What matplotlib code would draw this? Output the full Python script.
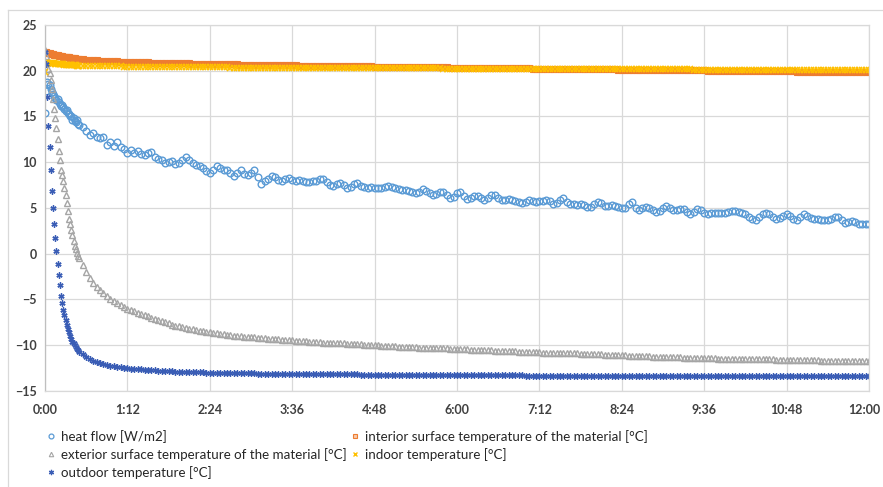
import matplotlib
matplotlib.use("Agg")
import matplotlib.pyplot as plt
import matplotlib.transforms as mtransforms
from matplotlib.lines import Line2D

# ---------------- data ----------------
# sampling times in minutes: every minute for the first 30 min, then every 3 min
time_first = list(range(0, 31))
time_rest = list(range(33, 721, 3))
time_min = time_first + time_rest

heat_flow = [
    15.4, 17.8, 18.8, 18.6, 18.4, 18.0, 17.7, 17.5, 17.2, 17.0,
    16.8, 16.9, 16.6, 16.4, 16.1, 16.3, 16.0, 15.8, 15.6, 15.7,
    15.4, 15.3, 15.0, 15.1, 14.6, 14.8, 14.5, 14.4, 14.6, 14.2,
    14.1,
    13.9, 13.4, 13.0, 13.2, 12.8, 12.6, 12.8, 11.9, 12.2, 11.8,
    12.2, 11.7, 11.4, 11.0, 11.3, 11.0, 11.2, 10.9, 10.8, 11.0,
    11.1, 10.6, 10.4, 10.2, 9.9, 10.0, 10.1, 9.8, 9.9, 10.3,
    10.6, 10.2, 9.9, 9.7, 9.6, 9.4, 9.0, 8.8, 9.2, 9.6,
    9.4, 9.1, 9.2, 8.8, 8.5, 8.8, 9.1, 8.7, 8.6, 8.8,
    9.2, 8.4, 7.6, 8.0, 8.2, 8.5, 8.4, 8.1, 7.9, 8.2,
    8.3, 8.1, 7.9, 8.1, 8.0, 7.8, 7.8, 7.9, 8.0, 8.2,
    8.2, 7.8, 7.5, 7.4, 7.6, 7.7, 7.5, 7.2, 7.3, 7.6,
    7.7, 7.4, 7.3, 7.2, 7.3, 7.2, 7.2, 7.2, 7.3, 7.4,
    7.3, 7.2, 7.1, 7.0, 7.0, 6.9, 6.7, 6.6, 6.8, 7.1,
    6.9, 6.6, 6.4, 6.5, 6.7, 6.7, 6.4, 6.1, 6.2, 6.6,
    6.8, 6.3, 6.0, 6.1, 6.3, 6.3, 6.1, 5.9, 6.1, 6.4,
    6.4, 6.1, 5.9, 5.9, 6.0, 5.9, 5.8, 5.7, 5.5, 5.7,
    5.9, 5.8, 5.7, 5.8, 5.8, 5.9, 5.8, 5.4, 5.6, 5.9,
    6.1, 5.7, 5.4, 5.4, 5.3, 5.4, 5.3, 5.1, 5.1, 5.4,
    5.7, 5.5, 5.2, 5.2, 5.3, 5.2, 5.1, 5.0, 5.0, 5.4,
    5.7, 5.0, 4.8, 5.0, 5.1, 5.0, 4.8, 4.6, 4.7, 5.0,
    5.2, 5.0, 4.8, 4.8, 4.9, 4.9, 4.6, 4.3, 4.6, 4.9,
    4.8, 4.5, 4.3, 4.4, 4.5, 4.5, 4.5, 4.5, 4.6, 4.7,
    4.7, 4.6, 4.45, 4.3, 4.0, 3.8, 3.7, 4.0, 4.3, 4.45,
    4.3, 4.0, 3.8, 3.9, 4.1, 4.3, 4.1, 3.8, 3.7, 4.0,
    4.3, 4.1, 3.9, 3.8, 3.8, 3.7, 3.7, 3.7, 3.8, 4.0,
    4.0, 3.7, 3.4, 3.5, 3.6, 3.5, 3.3, 3.2, 3.3, 3.3,
]

interior_surface = [
    22.0, 22.0, 21.9, 21.9, 21.9, 21.8, 21.8, 21.8, 21.75, 21.7,
    21.7, 21.7, 21.65, 21.6, 21.6, 21.6, 21.55, 21.5, 21.5, 21.5,
    21.45, 21.45, 21.4, 21.4, 21.4, 21.35, 21.35, 21.3, 21.3, 21.3,
    21.25,
    21.25, 21.2, 21.2, 21.15, 21.15, 21.1, 21.1, 21.1, 21.05, 21.05,
    21.05, 21.0, 21.0, 21.0, 20.98, 20.96, 20.95, 20.94, 20.93, 20.92,
    20.9, 20.9, 20.88, 20.87, 20.86, 20.85, 20.84, 20.83, 20.82, 20.81,
    20.8, 20.8, 20.79, 20.78, 20.77, 20.76, 20.75, 20.75, 20.74, 20.73,
    20.72, 20.72, 20.71, 20.7, 20.7, 20.69, 20.68, 20.68, 20.67, 20.66,
    20.66, 20.65, 20.64, 20.64, 20.63, 20.62, 20.62, 20.61, 20.6, 20.6,
    20.59, 20.59, 20.58, 20.57, 20.57, 20.56, 20.56, 20.55, 20.55, 20.54,
    20.54, 20.53, 20.53, 20.52, 20.52, 20.51, 20.51, 20.5, 20.5, 20.49,
    20.49, 20.48, 20.48, 20.47, 20.47, 20.46, 20.46, 20.45, 20.45, 20.44,
    20.44, 20.43, 20.43, 20.42, 20.42, 20.41, 20.41, 20.4, 20.4, 20.39,
    20.39, 20.38, 20.38, 20.37, 20.37, 20.36, 20.36, 20.35, 20.35, 20.34,
    20.34, 20.33, 20.33, 20.32, 20.32, 20.31, 20.31, 20.3, 20.3, 20.29,
    20.29, 20.29, 20.28, 20.28, 20.27, 20.27, 20.26, 20.26, 20.26, 20.25,
    20.25, 20.24, 20.24, 20.23, 20.23, 20.22, 20.22, 20.22, 20.21, 20.21,
    20.2, 20.2, 20.19, 20.19, 20.19, 20.18, 20.18, 20.17, 20.17, 20.16,
    20.16, 20.16, 20.15, 20.15, 20.14, 20.14, 20.13, 20.13, 20.13, 20.12,
    20.12, 20.11, 20.11, 20.1, 20.1, 20.1, 20.09, 20.09, 20.08, 20.08,
    20.07, 20.07, 20.07, 20.06, 20.06, 20.05, 20.05, 20.04, 20.04, 20.04,
    20.03, 20.03, 20.02, 20.02, 20.01, 20.01, 20.01, 20.0, 20.0, 19.99,
    19.99, 19.98, 19.98, 19.98, 19.97, 19.97, 19.96, 19.96, 19.95, 19.95,
    19.95, 19.94, 19.94, 19.93, 19.93, 19.92, 19.92, 19.92, 19.91, 19.91,
    19.9, 19.9, 19.9, 19.89, 19.89, 19.88, 19.88, 19.87, 19.87, 19.87,
    19.86, 19.86, 19.85, 19.85, 19.84, 19.84, 19.84, 19.83, 19.83, 19.82,
]

exterior_surface = [
    22.3, 21.6, 20.8, 20.2, 19.8, 19.0, 18.0, 16.9, 15.8, 14.8,
    13.7, 12.5, 11.2, 10.3, 9.2, 8.6, 8.0, 7.2, 6.4, 5.5,
    4.7, 3.8, 3.2, 2.6, 2.0, 1.4, 0.9, 0.5, 0.1, -0.2,
    -0.5,
    -1.2, -2.0, -2.6, -3.2, -3.6, -4.0, -4.3, -4.6, -4.9, -5.2,
    -5.4, -5.65, -5.85, -6.0, -6.15, -6.3, -6.45, -6.55, -6.7, -6.85,
    -7.0, -7.1, -7.25, -7.35, -7.5, -7.6, -7.75, -7.85, -7.95, -8.05,
    -8.1, -8.2, -8.25, -8.3, -8.4, -8.45, -8.5, -8.6, -8.65, -8.7,
    -8.75, -8.8, -8.85, -8.9, -8.95, -9.0, -9.0, -9.05, -9.1, -9.1,
    -9.15, -9.2, -9.2, -9.25, -9.3, -9.3, -9.35, -9.35, -9.4, -9.4,
    -9.45, -9.45, -9.5, -9.5, -9.55, -9.55, -9.6, -9.6, -9.65, -9.65,
    -9.7, -9.7, -9.75, -9.75, -9.8, -9.8, -9.8, -9.85, -9.85, -9.9,
    -9.9, -9.9, -9.95, -9.95, -10.0, -10.0, -10.0, -10.05, -10.05, -10.1,
    -10.1, -10.1, -10.15, -10.15, -10.15, -10.2, -10.2, -10.2, -10.25, -10.25,
    -10.25, -10.3, -10.3, -10.3, -10.35, -10.35, -10.35, -10.4, -10.4, -10.4,
    -10.45, -10.45, -10.45, -10.5, -10.5, -10.5, -10.5, -10.55, -10.55, -10.55,
    -10.6, -10.6, -10.6, -10.6, -10.65, -10.65, -10.65, -10.7, -10.7, -10.7,
    -10.7, -10.75, -10.75, -10.75, -10.8, -10.8, -10.8, -10.8, -10.85, -10.85,
    -10.85, -10.9, -10.9, -10.9, -10.9, -10.95, -10.95, -10.95, -11.0, -11.0,
    -11.0, -11.0, -11.05, -11.05, -11.05, -11.1, -11.1, -11.1, -11.1, -11.15,
    -11.15, -11.15, -11.2, -11.2, -11.2, -11.2, -11.25, -11.25, -11.25, -11.25,
    -11.3, -11.3, -11.3, -11.3, -11.3, -11.35, -11.35, -11.35, -11.35, -11.35,
    -11.4, -11.4, -11.4, -11.4, -11.4, -11.45, -11.45, -11.45, -11.45, -11.45,
    -11.5, -11.5, -11.5, -11.5, -11.5, -11.5, -11.55, -11.55, -11.55, -11.55,
    -11.55, -11.55, -11.6, -11.6, -11.6, -11.6, -11.6, -11.6, -11.6, -11.65,
    -11.65, -11.65, -11.65, -11.65, -11.65, -11.7, -11.7, -11.7, -11.7, -11.7,
    -11.7, -11.7, -11.7, -11.7, -11.75, -11.75, -11.75, -11.75, -11.75, -11.75,
]

indoor = [
    19.9, 20.9, 20.9, 20.85, 20.85, 20.8, 20.8, 20.8, 20.8, 20.75,
    20.75, 20.75, 20.7, 20.7, 20.7, 20.7, 20.7, 20.65, 20.65, 20.65,
    20.65, 20.65, 20.6, 20.6, 20.6, 20.6, 20.6, 20.6, 20.55, 20.55,
    20.55,
    20.55, 20.55, 20.54, 20.53, 20.52, 20.51, 20.5, 20.5, 20.49, 20.48,
    20.48, 20.47, 20.46, 20.46, 20.45, 20.45, 20.44, 20.44, 20.43, 20.43,
    20.43, 20.42, 20.42, 20.41, 20.41, 20.41, 20.4, 20.4, 20.4, 20.39,
    20.39, 20.39, 20.38, 20.38, 20.38, 20.37, 20.37, 20.37, 20.37, 20.36,
    20.36, 20.36, 20.36, 20.35, 20.35, 20.35, 20.35, 20.35, 20.34, 20.34,
    20.34, 20.34, 20.34, 20.33, 20.33, 20.33, 20.33, 20.33, 20.32, 20.32,
    20.32, 20.32, 20.32, 20.32, 20.31, 20.31, 20.31, 20.31, 20.31, 20.3,
    20.3, 20.3, 20.3, 20.3, 20.3, 20.29, 20.29, 20.29, 20.29, 20.29,
    20.29, 20.28, 20.28, 20.28, 20.28, 20.28, 20.28, 20.27, 20.27, 20.27,
    20.27, 20.27, 20.27, 20.26, 20.26, 20.26, 20.26, 20.26, 20.26, 20.25,
    20.25, 20.25, 20.25, 20.25, 20.25, 20.24, 20.24, 20.24, 20.24, 20.24,
    20.24, 20.23, 20.23, 20.23, 20.23, 20.23, 20.23, 20.22, 20.22, 20.22,
    20.22, 20.22, 20.22, 20.21, 20.21, 20.21, 20.21, 20.21, 20.21, 20.2,
    20.2, 20.2, 20.2, 20.2, 20.2, 20.2, 20.19, 20.19, 20.19, 20.19,
    20.19, 20.19, 20.19, 20.18, 20.18, 20.18, 20.18, 20.18, 20.18, 20.18,
    20.17, 20.17, 20.17, 20.17, 20.17, 20.17, 20.17, 20.16, 20.16, 20.16,
    20.16, 20.16, 20.16, 20.16, 20.15, 20.15, 20.15, 20.15, 20.15, 20.15,
    20.15, 20.14, 20.14, 20.14, 20.14, 20.14, 20.14, 20.14, 20.13, 20.13,
    20.13, 20.13, 20.13, 20.13, 20.13, 20.12, 20.12, 20.12, 20.12, 20.12,
    20.12, 20.12, 20.11, 20.11, 20.11, 20.11, 20.11, 20.11, 20.11, 20.1,
    20.1, 20.1, 20.1, 20.1, 20.1, 20.1, 20.1, 20.09, 20.09, 20.09,
    20.09, 20.09, 20.09, 20.09, 20.09, 20.08, 20.08, 20.08, 20.08, 20.08,
    20.08, 20.08, 20.08, 20.08, 20.07, 20.07, 20.07, 20.07, 20.07, 20.07,
]

outdoor = [
    22.0, 20.7, 17.1, 14.0, 11.7, 9.2, 6.9, 5.0, 3.2, 1.7,
    0.3, -1.1, -2.3, -3.4, -4.6, -5.4, -6.1, -6.7, -7.2, -7.8,
    -8.2, -8.6, -9.0, -9.3, -9.6, -9.8, -10.0, -10.2, -10.4, -10.55,
    -10.7,
    -11.0, -11.25, -11.5, -11.7, -11.85, -11.95, -12.05, -12.15, -12.25, -12.3,
    -12.35, -12.4, -12.45, -12.5, -12.55, -12.6, -12.62, -12.65, -12.68, -12.7,
    -12.72, -12.75, -12.77, -12.8, -12.82, -12.84, -12.85, -12.87, -12.88, -12.9,
    -12.9, -12.92, -12.93, -12.95, -12.95, -12.97, -12.98, -13.0, -13.0, -13.0,
    -13.02, -13.02, -13.03, -13.03, -13.05, -13.05, -13.05, -13.06, -13.07, -13.08,
    -13.08, -13.09, -13.1, -13.1, -13.1, -13.11, -13.11, -13.12, -13.12, -13.12,
    -13.13, -13.13, -13.13, -13.14, -13.14, -13.14, -13.15, -13.15, -13.15, -13.15,
    -13.16, -13.16, -13.17, -13.17, -13.17, -13.18, -13.18, -13.18, -13.19, -13.19,
    -13.19, -13.2, -13.2, -13.2, -13.2, -13.21, -13.21, -13.21, -13.21, -13.22,
    -13.22, -13.22, -13.22, -13.23, -13.23, -13.23, -13.23, -13.24, -13.24, -13.24,
    -13.24, -13.25, -13.25, -13.25, -13.25, -13.26, -13.26, -13.26, -13.26, -13.27,
    -13.27, -13.27, -13.27, -13.28, -13.28, -13.28, -13.28, -13.28, -13.29, -13.29,
    -13.29, -13.29, -13.29, -13.3, -13.3, -13.3, -13.3, -13.3, -13.3, -13.31,
    -13.31, -13.31, -13.31, -13.31, -13.31, -13.32, -13.32, -13.32, -13.32, -13.32,
    -13.32, -13.32, -13.33, -13.33, -13.33, -13.33, -13.33, -13.33, -13.33, -13.33,
    -13.33, -13.34, -13.34, -13.34, -13.34, -13.34, -13.34, -13.34, -13.34, -13.35,
    -13.35, -13.35, -13.35, -13.35, -13.35, -13.35, -13.35, -13.35, -13.35, -13.35,
    -13.35, -13.35, -13.35, -13.35, -13.35, -13.36, -13.36, -13.36, -13.36, -13.36,
    -13.36, -13.36, -13.36, -13.36, -13.36, -13.36, -13.36, -13.36, -13.36, -13.36,
    -13.36, -13.36, -13.36, -13.36, -13.36, -13.37, -13.37, -13.37, -13.37, -13.37,
    -13.37, -13.37, -13.37, -13.37, -13.37, -13.37, -13.37, -13.37, -13.37, -13.37,
    -13.37, -13.37, -13.37, -13.37, -13.37, -13.38, -13.38, -13.38, -13.38, -13.38,
    -13.38, -13.38, -13.38, -13.38, -13.38, -13.38, -13.38, -13.38, -13.38, -13.38,
]

labels = [
    "heat flow [W/m2]",
    "interior surface temperature of the material [°C]",
    "exterior surface temperature of the material [°C]",
    "indoor temperature [°C]",
    "outdoor temperature [°C]",
]

x_ticks_min = [0, 72, 144, 216, 288, 360, 432, 504, 576, 648, 720]
x_tick_labels = ["0:00", "1:12", "2:24", "3:36", "4:48", "6:00",
                 "7:12", "8:24", "9:36", "10:48", "12:00"]
y_ticks = [-15, -10, -5, 0, 5, 10, 15, 20, 25]

# ---------------- figure ----------------
W, H = 883, 487
fig = plt.figure(figsize=(W / 100, H / 100), dpi=100)
fig.patch.set_facecolor("white")

ax = fig.add_axes([45 / W, 1 - 391 / H, (869 - 45) / W, (391 - 25) / H])

def series(y):
    n = min(len(time_min), len(y))
    return time_min[:n], y[:n]

grid_c = "#D9D9D9"
blue = "#5B9BD5"
orange = "#ED7D31"
gray = "#A5A5A5"
yellow = "#FFC000"
navy = "#3A5DB5"

h_heat, = ax.plot(*series(heat_flow), linestyle="none", marker="o", ms=4.8,
                  mfc="none", mec=blue, mew=1.0, label=labels[0])
h_int, = ax.plot(*series(interior_surface), linestyle="none", marker="s", ms=3.8,
                 mfc=orange, mec=orange, mew=0.8, label=labels[1])
h_ext, = ax.plot(*series(exterior_surface), linestyle="none", marker="^", ms=4.0,
                 mfc="none", mec=gray, mew=1.0, label=labels[2])
h_ind, = ax.plot(*series(indoor), linestyle="none", marker="x", ms=4.0,
                 mec=yellow, mew=1.2, label=labels[3])
h_out, = ax.plot(*series(outdoor), linestyle="none", marker=(6, 2, 0), ms=4.4,
                 mec=navy, mew=1.0, label=labels[4])

ax.set_xlim(0, 720)
ax.set_ylim(-15, 25)
ax.set_xticks(x_ticks_min)
ax.set_xticklabels(x_tick_labels)
ax.set_yticks(y_ticks)
ax.grid(True, color=grid_c, linewidth=0.9)
ax.set_axisbelow(True)
for s in ax.spines.values():
    s.set_color(grid_c)
    s.set_linewidth(0.9)
ax.spines["left"].set_color("#BFBFBF")
ax.tick_params(length=0, pad=6, colors="#404040")
for lab in ax.get_xticklabels() + ax.get_yticklabels():
    lab.set_fontfamily("Lato")
    lab.set_fontweight("bold")
    lab.set_fontsize(9)
    lab.set_color("#404040")
ax.tick_params(axis="x", pad=9)

# keep the last time label inside the picture, as in the reference
last = ax.get_xticklabels()[-1]
last.set_transform(last.get_transform() +
                   mtransforms.ScaledTranslation(-5 / 100, 0, fig.dpi_scale_trans))

# chart area border (top and left visible)
fig.add_artist(Line2D([8 / W, 1.0], [1 - 10 / H, 1 - 10 / H], color="#D9D9D9", lw=0.9,
                      transform=fig.transFigure))
fig.add_artist(Line2D([8 / W, 8 / W], [0, 1 - 10 / H], color="#D9D9D9", lw=0.9,
                      transform=fig.transFigure))

# legend: legend fills column-wise
handles = [h_heat, h_ext, h_out, h_int, h_ind]
leg_handles = [
    Line2D([], [], linestyle="none", marker="o", ms=3.5, mfc="none", mec=blue, mew=0.9),
    Line2D([], [], linestyle="none", marker="^", ms=3.2, mfc="none", mec=gray, mew=0.8),
    Line2D([], [], linestyle="none", marker=(6, 2, 0), ms=3.8, mec=navy, mew=0.9),
    Line2D([], [], linestyle="none", marker="s", ms=3.4, mfc="#F8CBAD", mec=orange, mew=0.8),
    Line2D([], [], linestyle="none", marker="x", ms=3.4, mec=yellow, mew=1.0),
]
leg = fig.legend(leg_handles, [h.get_label() for h in handles], ncol=2,
                 loc="upper left", bbox_to_anchor=(47 / W, 1 - 430 / H),
                 frameon=False, handlelength=0.6, handletextpad=0.45,
                 columnspacing=0.3, labelspacing=0.38, borderaxespad=0,
                 borderpad=0, prop={"family": "Lato", "size": 9.6})
for t in leg.get_texts():
    t.set_color("#262626")

fig.savefig("out.png", dpi=100)
